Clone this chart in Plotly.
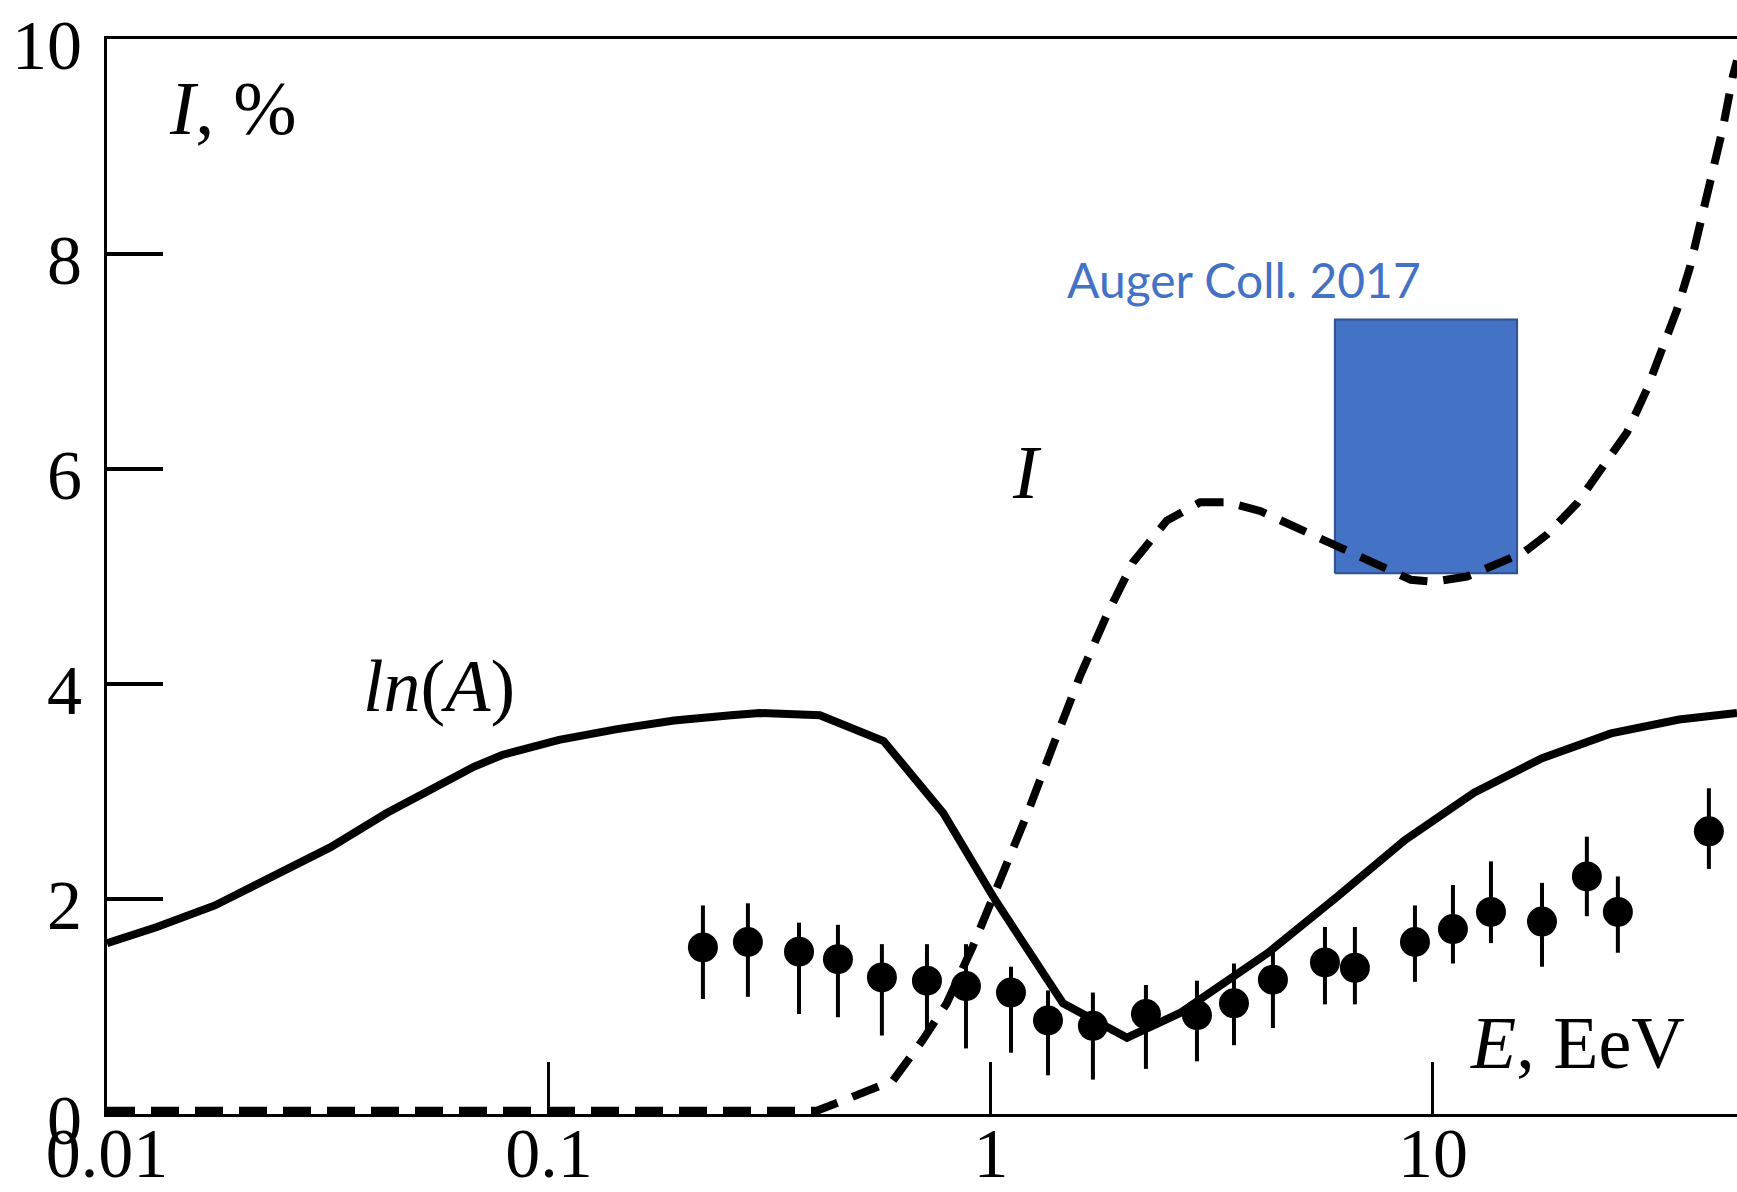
import plotly.graph_objects as go

# ln(A) model curve (solid)
lnA_E = [0.01, 0.01297, 0.01754, 0.0236, 0.03199, 0.04295, 0.05781, 0.0676,
         0.07834, 0.1054, 0.1426, 0.1919, 0.2582, 0.2999, 0.4102, 0.5715,
         0.7798, 1.019, 1.455, 2.032, 2.679, 4.236, 6.067, 8.65, 12.39,
         17.66, 25.29, 36.06, 48.75]
lnA_val = [1.59, 1.74, 1.94, 2.20, 2.48, 2.80, 3.08, 3.23,
           3.34, 3.48, 3.58, 3.66, 3.71, 3.73, 3.71, 3.47,
           2.80, 2.00, 1.03, 0.71, 0.94, 1.50, 2.02, 2.55, 2.99,
           3.31, 3.54, 3.67, 3.73]

# dipole intensity I, % (dashed)
I_E = [0.01, 0.4036, 0.4797, 0.5998, 0.7015, 0.7943, 0.9099, 1.047, 1.205,
       1.38, 1.589, 1.828, 2.094, 2.5, 2.972, 3.42, 4.064, 5.0, 5.998,
       7.413, 8.913, 10.0, 11.94, 16.0, 18.11, 21.18, 24.27, 27.48, 30.48,
       33.11, 35.65, 38.11, 40.18, 43.05, 45.29, 47.75, 48.75]
I_val = [0.03, 0.03, 0.15, 0.31, 0.69, 1.03, 1.56, 2.17, 2.78,
         3.42, 4.07, 4.64, 5.13, 5.52, 5.69, 5.69, 5.61, 5.44, 5.29,
         5.12, 4.97, 4.95, 5.00, 5.22, 5.39, 5.68, 6.01, 6.34, 6.74,
         7.11, 7.48, 7.87, 8.27, 8.73, 9.17, 9.66, 9.80]

# measured ln(A) with uncertainties
pts_E = [0.223, 0.2819, 0.3679, 0.4506, 0.5666, 0.7165, 0.878, 1.11, 1.346,
         1.701, 2.242, 2.925, 3.547, 4.345, 5.698, 6.66, 9.106, 11.1, 13.53,
         17.65, 22.3, 26.21, 42.11]
pts_val = [1.55, 1.60, 1.51, 1.44, 1.27, 1.24, 1.19, 1.13, 0.87,
           0.82, 0.93, 0.92, 1.03, 1.25, 1.41, 1.36, 1.60, 1.72, 1.88,
           1.79, 2.21, 1.88, 2.63]
pts_hi = [1.94, 1.96, 1.78, 1.76, 1.58, 1.58, 1.58, 1.37, 1.15,
          1.13, 1.20, 1.24, 1.40, 1.55, 1.74, 1.74, 1.94, 2.13, 2.35,
          2.15, 2.58, 2.21, 3.03]
pts_lo = [1.07, 1.09, 0.93, 0.90, 0.73, 0.73, 0.61, 0.57, 0.36,
          0.32, 0.42, 0.49, 0.64, 0.80, 1.02, 1.02, 1.23, 1.40, 1.59,
          1.37, 1.84, 1.50, 2.28]

# Auger Collaboration 2017 dipole band
box_E = [6.0, 15.5]
box_I = [5.03, 7.39]

x_ticks = [0.01, 0.1, 1, 10]
x_ticktext = ["0.01", "0.1", "1", "10"]
y_ticks = [0, 2, 4, 6, 8, 10]

err_up = [h - v for h, v in zip(pts_hi, pts_val)]
err_dn = [v - l for v, l in zip(pts_val, pts_lo)]

fig = go.Figure()

fig.add_trace(go.Scatter(
    x=[box_E[0], box_E[1], box_E[1], box_E[0], box_E[0]],
    y=[box_I[0], box_I[0], box_I[1], box_I[1], box_I[0]],
    mode="lines", fill="toself", fillcolor="#4472C4",
    line=dict(color="#2F528F", width=2), hoverinfo="skip"))

fig.add_trace(go.Scatter(
    x=I_E, y=I_val, mode="lines",
    line=dict(color="black", width=8, dash="28px,16px")))

fig.add_trace(go.Scatter(
    x=lnA_E, y=lnA_val, mode="lines",
    line=dict(color="black", width=8)))

fig.add_trace(go.Scatter(
    x=pts_E, y=pts_val, mode="markers",
    marker=dict(color="black", size=30),
    error_y=dict(type="data", symmetric=False, array=err_up,
                 arrayminus=err_dn, color="black", thickness=4, width=0)))

serif = "Liberation Serif"

fig.update_layout(
    width=1737, height=1192,
    margin=dict(l=107, r=0, t=39, b=78),
    paper_bgcolor="white", plot_bgcolor="white",
    showlegend=False,
    font=dict(family=serif, color="black", size=70),
    xaxis=dict(
        type="log", range=[-2, 1.688], automargin=False,
        tickvals=x_ticks, ticktext=x_ticktext,
        ticks="inside", ticklen=52, tickwidth=3, tickcolor="black",
        showline=True, linecolor="black", linewidth=3, mirror=True,
        showgrid=False, zeroline=False,
        tickfont=dict(family=serif, size=70, color="black"),
        ticklabelstandoff=-24,
    ),
    yaxis=dict(
        range=[0, 10], tickvals=y_ticks, automargin=False,
        ticks="inside", ticklen=56, tickwidth=4, tickcolor="black",
        showline=True, linecolor="black", linewidth=3,
        showgrid=False, zeroline=False,
        tickfont=dict(family=serif, size=70, color="black"),
        ticklabelstandoff=8, ticklabelshift=5,
    ),
)

def px(X):
    return (X - 107) / 1630

def py(Y):
    return (1114 - Y) / 1075

labels = [
    ("<i>I</i>, %", 168, 108, "left", 76, serif, "black"),
    ("<i>ln</i>(<i>A</i>)", 362, 686, "left", 74, serif, "black"),
    ("<i>I</i>", 1027, 472, "center", 76, serif, "black"),
    ("<i>E</i>, EeV", 1469, 1043, "left", 74, serif, "black"),
    ("Auger Coll. 2017", 1066, 279, "left", 48, "Lato", "#4472C4"),
]
for text, X, Y, anchor, size, fam, col in labels:
    fig.add_annotation(
        x=px(X), y=py(Y), xref="paper", yref="paper",
        text=text, showarrow=False, xanchor=anchor, yanchor="middle",
        font=dict(family=fam, size=size, color=col), borderpad=0)

fig.write_html("out.html")
